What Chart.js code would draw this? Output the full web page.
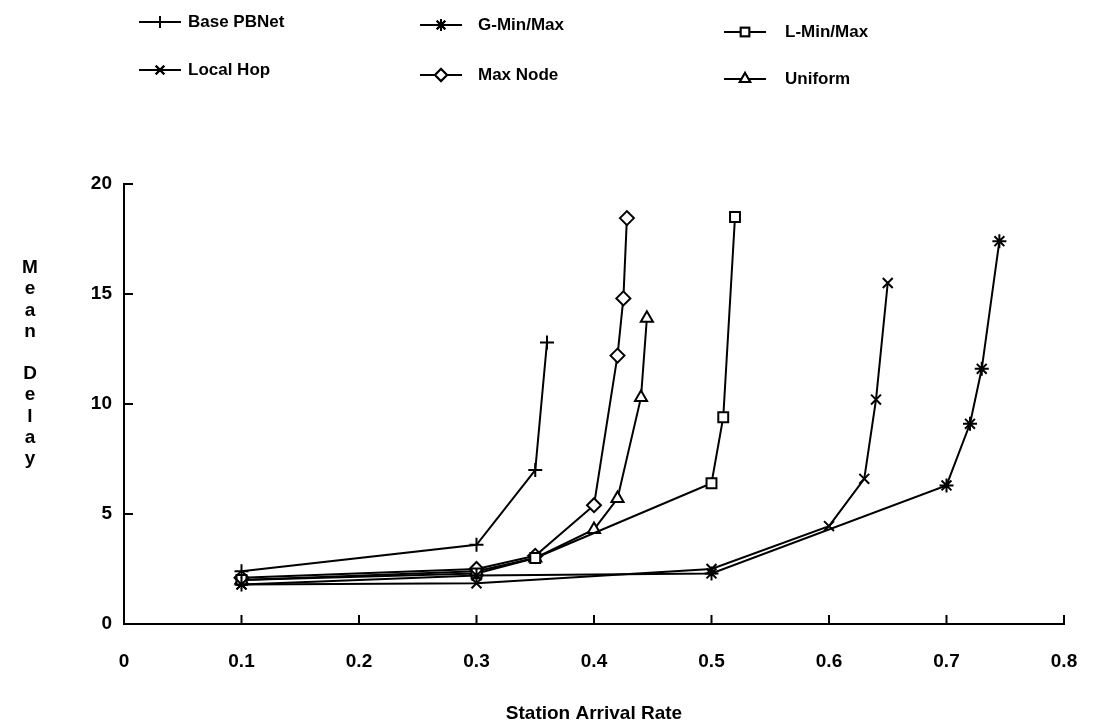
<!DOCTYPE html>
<html>
<head>
<meta charset="utf-8">
<script src="https://cdn.jsdelivr.net/npm/chart.js@4.4.0/dist/chart.umd.min.js"></script>
<style>body{margin:0;background:#fff}</style>
</head>
<body>
<canvas id="delayChart" width="1095" height="728"></canvas>
<script>
// tick labels
const xTickLabels = ['0', '0.1', '0.2', '0.3', '0.4', '0.5', '0.6', '0.7', '0.8'];
const yTickLabels = ['0', '5', '10', '15', '20'];

// series (station arrival rate, mean delay)
const basePBNetX = [0.1, 0.3, 0.35, 0.36];
const basePBNetY = [2.4, 3.6, 7.0, 12.8];

const gMinMaxX = [0.1, 0.3, 0.5, 0.7, 0.72, 0.73, 0.745];
const gMinMaxY = [1.8, 2.2, 2.3, 6.3, 9.1, 11.6, 17.4];

const lMinMaxX = [0.1, 0.3, 0.35, 0.5, 0.51, 0.52];
const lMinMaxY = [2.0, 2.3, 3.0, 6.4, 9.4, 18.5];

const localHopX = [0.1, 0.3, 0.5, 0.6, 0.63, 0.64, 0.65];
const localHopY = [1.8, 1.85, 2.5, 4.45, 6.6, 10.2, 15.5];

const maxNodeX = [0.1, 0.3, 0.35, 0.4, 0.42, 0.425, 0.428];
const maxNodeY = [2.1, 2.5, 3.1, 5.4, 12.2, 14.8, 18.45];

const uniformX = [0.1, 0.3, 0.35, 0.4, 0.42, 0.44, 0.445];
const uniformY = [2.0, 2.4, 3.0, 4.3, 5.7, 10.3, 13.9];

const toPoints = (xs, ys) => xs.map((x, i) => ({ x: x, y: ys[i] }));

const font = 'Liberation Sans, Arial, sans-serif';

function series(label, xs, ys, style, fill) {
    return {
        label: label,
        data: toPoints(xs, ys),
        showLine: true,
        borderColor: '#000',
        borderWidth: 2,
        pointStyle: style,
        pointRadius: 7,
        pointBorderWidth: 2,
        pointBorderColor: '#000',
        pointBackgroundColor: fill ? '#fff' : '#000'
    };
}

const datasets = [
    series('Base PBNet', basePBNetX, basePBNetY, 'cross', false),
    series('G-Min/Max', gMinMaxX, gMinMaxY, 'star', false),
    series('L-Min/Max', lMinMaxX, lMinMaxY, 'rect', true),
    series('Local Hop', localHopX, localHopY, 'crossRot', false),
    series('Max Node', maxNodeX, maxNodeY, 'rectRot', true),
    series('Uniform', uniformX, uniformY, 'triangle', true)
];

// legend slots: [symbol centre x, text x, y]
const legendSlots = [[160, 188, 22], [441, 478, 25], [745, 785, 32], [160, 188, 70], [441, 478, 75], [745, 785, 79]];

const extras = {
    id: 'extras',
    afterDraw(chart) {
        const ctx = chart.ctx;
        const xs = chart.scales.x, ys = chart.scales.y;
        const area = chart.chartArea;
        ctx.save();
        ctx.strokeStyle = '#000';
        ctx.lineWidth = 2;
        // inward tick marks
        xs.ticks.forEach((t, i) => {
            const px = xs.getPixelForTick(i);
            ctx.beginPath(); ctx.moveTo(px, area.bottom); ctx.lineTo(px, area.bottom - 9); ctx.stroke();
        });
        ys.ticks.forEach((t, i) => {
            const py = ys.getPixelForTick(i);
            ctx.beginPath(); ctx.moveTo(area.left, py); ctx.lineTo(area.left + 9, py); ctx.stroke();
        });
        // legend
        ctx.font = 'bold 17px ' + font;
        ctx.fillStyle = '#000';
        ctx.textBaseline = 'middle';
        chart.data.datasets.forEach((ds, i) => {
            const [cx, tx, y] = legendSlots[i];
            ctx.beginPath(); ctx.moveTo(cx - 21, y); ctx.lineTo(cx + 21, y); ctx.stroke();
            Chart.helpers.drawPoint(ctx, {
                pointStyle: ds.pointStyle, radius: 6, borderWidth: 2
            }, cx, y);
            ctx.fillStyle = ds.pointBackgroundColor;
            ctx.fill();
            ctx.stroke();
            ctx.fillStyle = '#000';
            ctx.fillText(ds.label, tx, y);
        });
        // stacked y title
        ctx.font = 'bold 19px ' + font;
        ctx.textAlign = 'center';
        'Mean Delay'.split('').forEach((ch, i) => ctx.fillText(ch, 30, 268 + i * 21.2));
        ctx.restore();
    }
};

new Chart(document.getElementById('delayChart'), {
    type: 'scatter',
    data: { datasets: datasets },
    options: {
        responsive: false,
        animation: false,
        layout: { padding: { top: 184, right: 31, left: 0, bottom: 0 } },
        plugins: { legend: { display: false }, tooltip: { enabled: false } },
        scales: {
            x: {
                type: 'linear', min: 0, max: 0.8,
                afterFit(scale) { scale.height = 104; scale.paddingRight = 0; scale.paddingLeft = 0; },
                afterBuildTicks(scale) { scale.ticks = xTickLabels.map(v => ({ value: parseFloat(v) })); },
                ticks: { color: '#000', padding: 26, font: { family: font, size: 19, weight: 'bold' }, callback: (v, i) => xTickLabels[i] },
                grid: { display: false, drawTicks: false },
                border: { display: true, color: '#000', width: 2 },
                title: { display: true, text: 'Station Arrival Rate', color: '#000', padding: { top: 5, bottom: 3 }, font: { family: font, size: 19, weight: 'bold' } }
            },
            y: {
                type: 'linear', min: 0, max: 20,
                afterFit(scale) { scale.width = 124; scale.paddingTop = 0; scale.paddingBottom = 0; },
                afterBuildTicks(scale) { scale.ticks = yTickLabels.map(v => ({ value: parseFloat(v) })); },
                ticks: { color: '#000', padding: 12, font: { family: font, size: 19, weight: 'bold' }, callback: (v, i) => yTickLabels[i] },
                grid: { display: false, drawTicks: false },
                border: { display: true, color: '#000', width: 2 }
            }
        }
    },
    plugins: [extras]
});
</script>
</body>
</html>
